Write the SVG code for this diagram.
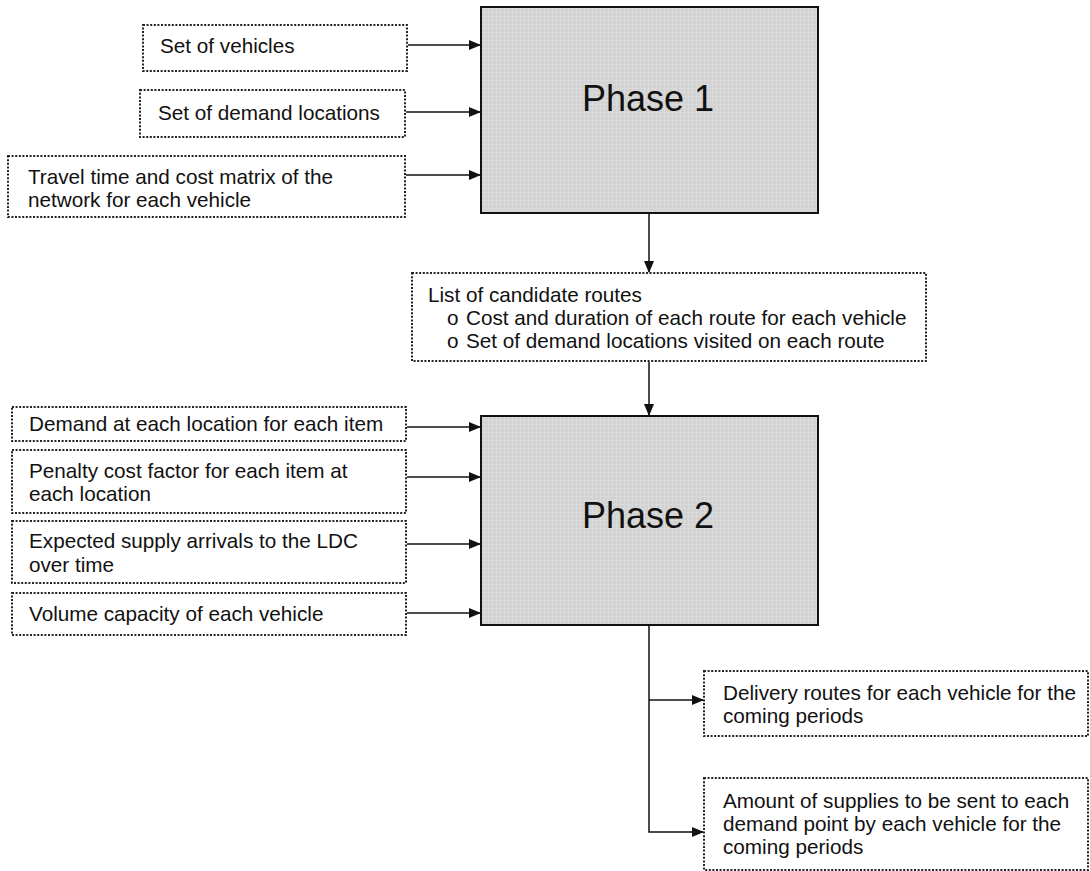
<svg xmlns="http://www.w3.org/2000/svg" width="1090" height="871" viewBox="0 0 1090 871">
<style>
.in{fill:#fff;stroke:#222;stroke-width:2;stroke-dasharray:2 1.6}
.ph{fill:url(#grid);stroke:#111;stroke-width:2}
.t{font-family:"Liberation Sans",Arial,sans-serif;font-size:20.7px;fill:#111}
.p{font-family:"Liberation Sans",Arial,sans-serif;font-size:36px;fill:#111;text-anchor:middle}
.c{fill:none;stroke:#111;stroke-width:1.5}
</style>
<defs>
<pattern id="grid" width="4" height="4" patternUnits="userSpaceOnUse">
<rect width="4" height="4" fill="#d2d2d2"/>
<path d="M0,0.5 H4 M0.5,0 V4" stroke="#dadada" stroke-width="1"/>
</pattern>
<marker id="ah" markerWidth="12" markerHeight="10" refX="11" refY="5" orient="auto" markerUnits="userSpaceOnUse">
<path d="M0,0 L12,5 L0,10 Z" fill="#111"/>
</marker>
</defs>
<rect width="1090" height="871" fill="#fff"/>
<g id="phase1"><rect class="ph" x="481" y="7" width="337" height="206"/><text class="p" x="648" y="111">Phase 1</text></g>
<g id="phase2"><rect class="ph" x="481" y="416" width="337" height="209"/><text class="p" x="648" y="528">Phase 2</text></g>
<g id="in-vehicles"><rect class="in" x="143" y="25" width="264" height="46"/><text class="t" x="160" y="53">Set of vehicles</text></g>
<g id="in-demandloc"><rect class="in" x="140" y="90" width="265" height="47"/><text class="t" x="158" y="120">Set of demand locations</text></g>
<g id="in-travel"><rect class="in" x="8" y="156" width="397" height="61"/><text class="t" x="28" y="184">Travel time and cost matrix of the</text><text class="t" x="28" y="207">network for each vehicle</text></g>
<g id="candidates"><rect class="in" x="412" y="273" width="514" height="88"/>
<text class="t" x="428" y="302">List of candidate routes</text>
<text class="t" x="447" y="325">o</text><text class="t" x="466" y="325">Cost and duration of each route for each vehicle</text>
<text class="t" x="447" y="348">o</text><text class="t" x="466" y="348">Set of demand locations visited on each route</text></g>
<g id="in-demand"><rect class="in" x="12" y="407" width="394" height="34"/><text class="t" x="29" y="431">Demand at each location for each item</text></g>
<g id="in-penalty"><rect class="in" x="12" y="450" width="394" height="63"/><text class="t" x="29" y="478">Penalty cost factor for each item at</text><text class="t" x="29" y="501">each location</text></g>
<g id="in-supply"><rect class="in" x="12" y="521" width="394" height="62"/><text class="t" x="29" y="548">Expected supply arrivals to the LDC</text><text class="t" x="29" y="572">over time</text></g>
<g id="in-volume"><rect class="in" x="12" y="593" width="394" height="42"/><text class="t" x="29" y="621">Volume capacity of each vehicle</text></g>
<g id="out-routes"><rect class="in" x="704" y="671" width="384" height="65"/><text class="t" x="723" y="700">Delivery routes for each vehicle for the</text><text class="t" x="723" y="723">coming periods</text></g>
<g id="out-amount"><rect class="in" x="704" y="778" width="384" height="92"/><text class="t" x="723" y="808">Amount of supplies to be sent to each</text><text class="t" x="723" y="831">demand point by each vehicle for the</text><text class="t" x="723" y="854">coming periods</text></g>
<g id="connectors">
<line class="c" x1="408" y1="45" x2="480" y2="45" marker-end="url(#ah)"/>
<line class="c" x1="406" y1="112" x2="480" y2="112" marker-end="url(#ah)"/>
<line class="c" x1="406" y1="175" x2="480" y2="175" marker-end="url(#ah)"/>
<line class="c" x1="649" y1="214" x2="649" y2="272" marker-end="url(#ah)"/>
<line class="c" x1="649" y1="362" x2="649" y2="415" marker-end="url(#ah)"/>
<line class="c" x1="407" y1="427" x2="480" y2="427" marker-end="url(#ah)"/>
<line class="c" x1="407" y1="477" x2="480" y2="477" marker-end="url(#ah)"/>
<line class="c" x1="407" y1="544" x2="480" y2="544" marker-end="url(#ah)"/>
<line class="c" x1="407" y1="613" x2="480" y2="613" marker-end="url(#ah)"/>
<polyline class="c" points="649,626 649,832 703,832" marker-end="url(#ah)"/>
<line class="c" x1="649" y1="700" x2="703" y2="700" marker-end="url(#ah)"/>
</g>
</svg>
